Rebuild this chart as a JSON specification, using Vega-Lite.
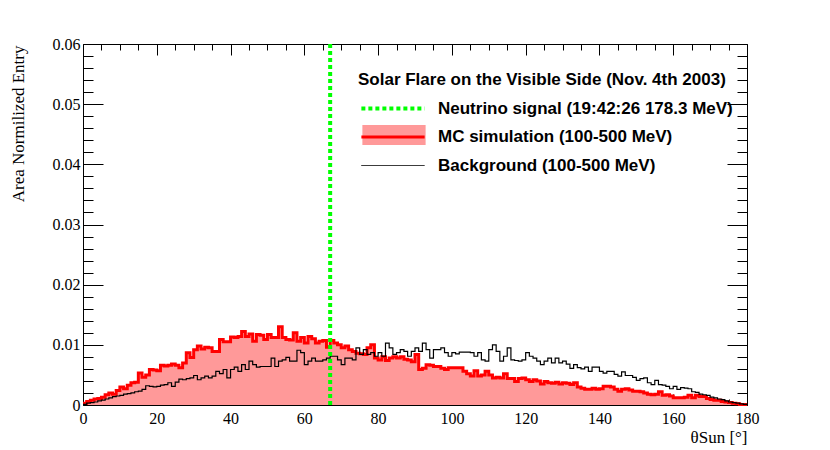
{
  "$schema": "https://vega.github.io/schema/vega-lite/v6.json",
  "width": 664,
  "height": 361,
  "autosize": "none",
  "padding": {"left": 83, "top": 44, "right": 83, "bottom": 45},
  "background": "white",
  "config": {
    "view": {"stroke": null},
    "axis": {
      "domainColor": "black",
      "domainWidth": 1,
      "tickColor": "black",
      "tickWidth": 1,
      "grid": false,
      "zindex": 1,
      "labelFont": "Liberation Serif",
      "labelFontSize": 16,
      "labelColor": "black",
      "titleFont": "Liberation Serif",
      "titleFontSize": 17,
      "titleFontWeight": "normal",
      "titleColor": "black"
    }
  },
  "data": {
    "values": [
      {"theta": 0, "mc": 0.0003, "bg": 0.0001}, {"theta": 1, "mc": 0.0006, "bg": 0.0003}, {"theta": 2, "mc": 0.0008, "bg": 0.0004}, {"theta": 3, "mc": 0.0010, "bg": 0.0005}, {"theta": 4, "mc": 0.0011, "bg": 0.0007},
      {"theta": 5, "mc": 0.0013, "bg": 0.0008}, {"theta": 6, "mc": 0.0017, "bg": 0.0010}, {"theta": 7, "mc": 0.0020, "bg": 0.0012}, {"theta": 8, "mc": 0.0018, "bg": 0.0014}, {"theta": 9, "mc": 0.0024, "bg": 0.0015},
      {"theta": 10, "mc": 0.0030, "bg": 0.0016}, {"theta": 11, "mc": 0.0027, "bg": 0.0018}, {"theta": 12, "mc": 0.0033, "bg": 0.0019}, {"theta": 13, "mc": 0.0037, "bg": 0.0020}, {"theta": 14, "mc": 0.0038, "bg": 0.0022},
      {"theta": 15, "mc": 0.0053, "bg": 0.0023}, {"theta": 16, "mc": 0.0046, "bg": 0.0026}, {"theta": 17, "mc": 0.0050, "bg": 0.0032}, {"theta": 18, "mc": 0.0059, "bg": 0.0031}, {"theta": 19, "mc": 0.0058, "bg": 0.0030},
      {"theta": 20, "mc": 0.0057, "bg": 0.0031}, {"theta": 21, "mc": 0.0066, "bg": 0.0033}, {"theta": 22, "mc": 0.0065, "bg": 0.0034}, {"theta": 23, "mc": 0.0066, "bg": 0.0037}, {"theta": 24, "mc": 0.0068, "bg": 0.0031},
      {"theta": 25, "mc": 0.0066, "bg": 0.0038}, {"theta": 26, "mc": 0.0062, "bg": 0.0043}, {"theta": 27, "mc": 0.0070, "bg": 0.0042}, {"theta": 28, "mc": 0.0087, "bg": 0.0044}, {"theta": 29, "mc": 0.0079, "bg": 0.0045},
      {"theta": 30, "mc": 0.0092, "bg": 0.0049}, {"theta": 31, "mc": 0.0098, "bg": 0.0042}, {"theta": 32, "mc": 0.0093, "bg": 0.0045}, {"theta": 33, "mc": 0.0096, "bg": 0.0048}, {"theta": 34, "mc": 0.0095, "bg": 0.0045},
      {"theta": 35, "mc": 0.0089, "bg": 0.0048}, {"theta": 36, "mc": 0.0089, "bg": 0.0056}, {"theta": 37, "mc": 0.0109, "bg": 0.0052}, {"theta": 38, "mc": 0.0105, "bg": 0.0059}, {"theta": 39, "mc": 0.0105, "bg": 0.0045},
      {"theta": 40, "mc": 0.0113, "bg": 0.0059}, {"theta": 41, "mc": 0.0112, "bg": 0.0063}, {"theta": 42, "mc": 0.0114, "bg": 0.0056}, {"theta": 43, "mc": 0.0122, "bg": 0.0067}, {"theta": 44, "mc": 0.0114, "bg": 0.0059},
      {"theta": 45, "mc": 0.0118, "bg": 0.0073}, {"theta": 46, "mc": 0.0106, "bg": 0.0067}, {"theta": 47, "mc": 0.0117, "bg": 0.0063}, {"theta": 48, "mc": 0.0116, "bg": 0.0064}, {"theta": 49, "mc": 0.0109, "bg": 0.0064},
      {"theta": 50, "mc": 0.0117, "bg": 0.0064}, {"theta": 51, "mc": 0.0112, "bg": 0.0078}, {"theta": 52, "mc": 0.0112, "bg": 0.0064}, {"theta": 53, "mc": 0.0130, "bg": 0.0073}, {"theta": 54, "mc": 0.0112, "bg": 0.0075},
      {"theta": 55, "mc": 0.0109, "bg": 0.0079}, {"theta": 56, "mc": 0.0108, "bg": 0.0073}, {"theta": 57, "mc": 0.0120, "bg": 0.0073}, {"theta": 58, "mc": 0.0106, "bg": 0.0091}, {"theta": 59, "mc": 0.0112, "bg": 0.0087},
      {"theta": 60, "mc": 0.0103, "bg": 0.0067}, {"theta": 61, "mc": 0.0114, "bg": 0.0073}, {"theta": 62, "mc": 0.0110, "bg": 0.0078}, {"theta": 63, "mc": 0.0103, "bg": 0.0073}, {"theta": 64, "mc": 0.0106, "bg": 0.0073},
      {"theta": 65, "mc": 0.0107, "bg": 0.0075}, {"theta": 66, "mc": 0.0096, "bg": 0.0078}, {"theta": 67, "mc": 0.0107, "bg": 0.0081}, {"theta": 68, "mc": 0.0103, "bg": 0.0081}, {"theta": 69, "mc": 0.0100, "bg": 0.0075},
      {"theta": 70, "mc": 0.0095, "bg": 0.0067}, {"theta": 71, "mc": 0.0098, "bg": 0.0078}, {"theta": 72, "mc": 0.0092, "bg": 0.0078}, {"theta": 73, "mc": 0.0089, "bg": 0.0075}, {"theta": 74, "mc": 0.0086, "bg": 0.0095},
      {"theta": 75, "mc": 0.0085, "bg": 0.0084}, {"theta": 76, "mc": 0.0084, "bg": 0.0092}, {"theta": 77, "mc": 0.0095, "bg": 0.0084}, {"theta": 78, "mc": 0.0100, "bg": 0.0087}, {"theta": 79, "mc": 0.0078, "bg": 0.0081},
      {"theta": 80, "mc": 0.0075, "bg": 0.0087}, {"theta": 81, "mc": 0.0080, "bg": 0.0081}, {"theta": 82, "mc": 0.0074, "bg": 0.0103}, {"theta": 83, "mc": 0.0078, "bg": 0.0095}, {"theta": 84, "mc": 0.0080, "bg": 0.0084},
      {"theta": 85, "mc": 0.0078, "bg": 0.0087}, {"theta": 86, "mc": 0.0080, "bg": 0.0092}, {"theta": 87, "mc": 0.0076, "bg": 0.0089}, {"theta": 88, "mc": 0.0075, "bg": 0.0081}, {"theta": 89, "mc": 0.0072, "bg": 0.0089},
      {"theta": 90, "mc": 0.0084, "bg": 0.0095}, {"theta": 91, "mc": 0.0059, "bg": 0.0089}, {"theta": 92, "mc": 0.0061, "bg": 0.0103}, {"theta": 93, "mc": 0.0067, "bg": 0.0092}, {"theta": 94, "mc": 0.0066, "bg": 0.0078},
      {"theta": 95, "mc": 0.0064, "bg": 0.0092}, {"theta": 96, "mc": 0.0064, "bg": 0.0092}, {"theta": 97, "mc": 0.0061, "bg": 0.0095}, {"theta": 98, "mc": 0.0059, "bg": 0.0087}, {"theta": 99, "mc": 0.0062, "bg": 0.0081},
      {"theta": 100, "mc": 0.0062, "bg": 0.0087}, {"theta": 101, "mc": 0.0062, "bg": 0.0085}, {"theta": 102, "mc": 0.0062, "bg": 0.0088}, {"theta": 103, "mc": 0.0056, "bg": 0.0088}, {"theta": 104, "mc": 0.0052, "bg": 0.0088},
      {"theta": 105, "mc": 0.0048, "bg": 0.0087}, {"theta": 106, "mc": 0.0057, "bg": 0.0081}, {"theta": 107, "mc": 0.0048, "bg": 0.0087}, {"theta": 108, "mc": 0.0050, "bg": 0.0075}, {"theta": 109, "mc": 0.0056, "bg": 0.0073},
      {"theta": 110, "mc": 0.0050, "bg": 0.0092}, {"theta": 111, "mc": 0.0045, "bg": 0.0100}, {"theta": 112, "mc": 0.0046, "bg": 0.0089}, {"theta": 113, "mc": 0.0045, "bg": 0.0073}, {"theta": 114, "mc": 0.0052, "bg": 0.0081},
      {"theta": 115, "mc": 0.0044, "bg": 0.0095}, {"theta": 116, "mc": 0.0044, "bg": 0.0075}, {"theta": 117, "mc": 0.0039, "bg": 0.0074}, {"theta": 118, "mc": 0.0044, "bg": 0.0073}, {"theta": 119, "mc": 0.0045, "bg": 0.0075},
      {"theta": 120, "mc": 0.0042, "bg": 0.0087}, {"theta": 121, "mc": 0.0039, "bg": 0.0081}, {"theta": 122, "mc": 0.0042, "bg": 0.0078}, {"theta": 123, "mc": 0.0040, "bg": 0.0073}, {"theta": 124, "mc": 0.0035, "bg": 0.0067},
      {"theta": 125, "mc": 0.0039, "bg": 0.0073}, {"theta": 126, "mc": 0.0037, "bg": 0.0078}, {"theta": 127, "mc": 0.0036, "bg": 0.0070}, {"theta": 128, "mc": 0.0038, "bg": 0.0078}, {"theta": 129, "mc": 0.0035, "bg": 0.0070},
      {"theta": 130, "mc": 0.0037, "bg": 0.0073}, {"theta": 131, "mc": 0.0036, "bg": 0.0068}, {"theta": 132, "mc": 0.0034, "bg": 0.0061}, {"theta": 133, "mc": 0.0037, "bg": 0.0067}, {"theta": 134, "mc": 0.0030, "bg": 0.0062},
      {"theta": 135, "mc": 0.0028, "bg": 0.0060}, {"theta": 136, "mc": 0.0026, "bg": 0.0063}, {"theta": 137, "mc": 0.0026, "bg": 0.0056}, {"theta": 138, "mc": 0.0028, "bg": 0.0063}, {"theta": 139, "mc": 0.0026, "bg": 0.0063},
      {"theta": 140, "mc": 0.0027, "bg": 0.0056}, {"theta": 141, "mc": 0.0031, "bg": 0.0053}, {"theta": 142, "mc": 0.0031, "bg": 0.0056}, {"theta": 143, "mc": 0.0030, "bg": 0.0056}, {"theta": 144, "mc": 0.0026, "bg": 0.0051},
      {"theta": 145, "mc": 0.0023, "bg": 0.0048}, {"theta": 146, "mc": 0.0026, "bg": 0.0055}, {"theta": 147, "mc": 0.0027, "bg": 0.0049}, {"theta": 148, "mc": 0.0025, "bg": 0.0049}, {"theta": 149, "mc": 0.0023, "bg": 0.0046},
      {"theta": 150, "mc": 0.0023, "bg": 0.0041}, {"theta": 151, "mc": 0.0022, "bg": 0.0044}, {"theta": 152, "mc": 0.0020, "bg": 0.0045}, {"theta": 153, "mc": 0.0018, "bg": 0.0037}, {"theta": 154, "mc": 0.0017, "bg": 0.0034},
      {"theta": 155, "mc": 0.0018, "bg": 0.0041}, {"theta": 156, "mc": 0.0022, "bg": 0.0034}, {"theta": 157, "mc": 0.0016, "bg": 0.0033}, {"theta": 158, "mc": 0.0017, "bg": 0.0031}, {"theta": 159, "mc": 0.0015, "bg": 0.0027},
      {"theta": 160, "mc": 0.0012, "bg": 0.0031}, {"theta": 161, "mc": 0.0012, "bg": 0.0026}, {"theta": 162, "mc": 0.0012, "bg": 0.0029}, {"theta": 163, "mc": 0.0013, "bg": 0.0028}, {"theta": 164, "mc": 0.0016, "bg": 0.0027},
      {"theta": 165, "mc": 0.0012, "bg": 0.0022}, {"theta": 166, "mc": 0.0016, "bg": 0.0021}, {"theta": 167, "mc": 0.0014, "bg": 0.0018}, {"theta": 168, "mc": 0.0014, "bg": 0.0017}, {"theta": 169, "mc": 0.0011, "bg": 0.0016},
      {"theta": 170, "mc": 0.0009, "bg": 0.0013}, {"theta": 171, "mc": 0.0008, "bg": 0.0012}, {"theta": 172, "mc": 0.0008, "bg": 0.0010}, {"theta": 173, "mc": 0.0006, "bg": 0.0009}, {"theta": 174, "mc": 0.0005, "bg": 0.0007},
      {"theta": 175, "mc": 0.0004, "bg": 0.0005}, {"theta": 176, "mc": 0.0003, "bg": 0.0004}, {"theta": 177, "mc": 0.0002, "bg": 0.0003}, {"theta": 178, "mc": 0.0001, "bg": 0.0002}, {"theta": 179, "mc": 0.0001, "bg": 0.0001},
      {"theta": 180, "mc": 0.0001, "bg": 0.0001}
    ]
  },
  "layer": [
    {
      "mark": {"type": "area", "interpolate": "step-after"},
      "encoding": {
        "x": {
          "field": "theta", "type": "quantitative",
          "scale": {"domain": [0, 180], "nice": false, "zero": false},
          "axis": {
            "values": [0, 20, 40, 60, 80, 100, 120, 140, 160, 180],
            "ticks": false,
            "labelPadding": 5,
            "labelFlush": false,
            "labelOverlap": false,
            "title": "θSun [°]",
            "titleX": 664,
            "titleY": 37,
            "titleAlign": "right",
            "titleBaseline": "alphabetic"
          }
        },
        "y": {
          "field": "mc", "type": "quantitative",
          "scale": {"domain": [0, 0.06], "nice": false},
          "axis": {
            "values": [0, 0.01, 0.02, 0.03, 0.04, 0.05, 0.06],
            "labelExpr": "datum.value == 0 ? '0' : format(datum.value, '.2f')",
            "ticks": false,
            "labelPadding": 3,
            "labelFlush": false,
            "labelOverlap": false,
            "title": "Area Normilized Entry",
            "titleX": -65,
            "titleY": 1,
            "titleAngle": -90,
            "titleAlign": "right",
            "titleBaseline": "middle"
          }
        },
        "fill": {
          "datum": "MC simulation (100-500 MeV)",
          "scale": {"domain": ["MC simulation (100-500 MeV)"], "range": ["#ff9999"]},
          "legend": {
            "orient": "none",
            "legendX": 275,
            "legendY": 59,
            "zindex": 0,
            "title": null,
            "labelExpr": "''",
            "labelFontSize": 17,
            "labelOffset": 36.5,
            "symbolOffset": 4,
            "symbolType": "M-1,-0.32H1V0.32H-1Z",
            "symbolSize": 4000,
            "symbolStrokeWidth": 0,
            "symbolOpacity": 1
          }
        }
      }
    },
    {
      "mark": {"type": "line", "interpolate": "step-after", "strokeWidth": 3},
      "encoding": {
        "x": {
          "field": "theta", "type": "quantitative",
          "axis": {
            "orient": "top",
            "values": [0, 5, 10, 15, 20, 25, 30, 35, 40, 45, 50, 55, 60, 65, 70, 75, 80, 85, 90, 95, 100, 105, 110, 115, 120, 125, 130, 135, 140, 145, 150, 155, 160, 165, 170, 175, 180],
            "labels": false,
            "tickSize": {"condition": {"test": "datum.value % 20 == 0", "value": -11}, "value": -6},
            "title": null
          }
        },
        "y": {
          "field": "mc", "type": "quantitative",
          "axis": {
            "orient": "right",
            "values": [0, 0.002, 0.004, 0.006, 0.008, 0.01, 0.012, 0.014, 0.016, 0.018, 0.02, 0.022, 0.024, 0.026, 0.028, 0.03, 0.032, 0.034, 0.036, 0.038, 0.04, 0.042, 0.044, 0.046, 0.048, 0.05, 0.052, 0.054, 0.056, 0.058, 0.06],
            "labels": false,
            "tickSize": {"condition": {"test": "abs(datum.value * 100 - round(datum.value * 100)) < 0.000001", "value": -20}, "value": -10},
            "title": null
          }
        },
        "color": {
          "datum": "MC simulation (100-500 MeV)",
          "scale": {
            "domain": ["Neutrino signal (19:42:26 178.3 MeV)", "MC simulation (100-500 MeV)", "Background (100-500 MeV)"],
            "range": ["#00ff00", "#ff0000", "#000000"]
          },
          "legend": {
            "orient": "none",
            "legendX": 275,
            "legendY": 28,
            "zindex": 1,
            "title": "Solar Flare on the Visible Side (Nov. 4th 2003)",
            "titleFont": "Liberation Sans",
            "titleFontWeight": "bold",
            "titleFontSize": 17,
            "titleColor": "black",
            "titlePadding": 11,
            "titleLimit": 600,
            "labelFont": "Liberation Sans",
            "labelFontWeight": "bold",
            "labelFontSize": 17,
            "labelColor": "black",
            "labelLimit": 500,
            "labelOffset": 36.5,
            "symbolOffset": 26.5,
            "symbolType": "stroke",
            "symbolSize": 4000,
            "symbolStrokeWidth": 2,
            "rowPadding": 10.5,
            "encode": {
              "symbols": {
                "update": {
                  "strokeDash": {"signal": "datum.value == 'Neutrino signal (19:42:26 178.3 MeV)' ? [4, 3] : [1, 0]"},
                  "strokeWidth": {"signal": "datum.value == 'Neutrino signal (19:42:26 178.3 MeV)' ? 4 : (datum.value == 'MC simulation (100-500 MeV)' ? 3 : 1)"}
                }
              }
            }
          }
        }
      }
    },
    {
      "mark": {"type": "line", "interpolate": "step-after", "strokeWidth": 1.2},
      "encoding": {
        "x": {
          "field": "theta", "type": "quantitative",
          "axis": {
            "orient": "bottom",
            "values": [0, 5, 10, 15, 20, 25, 30, 35, 40, 45, 50, 55, 60, 65, 70, 75, 80, 85, 90, 95, 100, 105, 110, 115, 120, 125, 130, 135, 140, 145, 150, 155, 160, 165, 170, 175, 180],
            "labels": false,
            "domain": false,
            "tickSize": {"condition": {"test": "datum.value % 20 == 0", "value": -11}, "value": -6},
            "title": null
          }
        },
        "y": {
          "field": "bg", "type": "quantitative",
          "axis": {
            "orient": "left",
            "values": [0, 0.002, 0.004, 0.006, 0.008, 0.01, 0.012, 0.014, 0.016, 0.018, 0.02, 0.022, 0.024, 0.026, 0.028, 0.03, 0.032, 0.034, 0.036, 0.038, 0.04, 0.042, 0.044, 0.046, 0.048, 0.05, 0.052, 0.054, 0.056, 0.058, 0.06],
            "labels": false,
            "domain": false,
            "tickSize": {"condition": {"test": "abs(datum.value * 100 - round(datum.value * 100)) < 0.000001", "value": -20}, "value": -10},
            "title": null
          }
        },
        "color": {"datum": "Background (100-500 MeV)"}
      }
    },
    {
      "data": {"values": [{"theta": 67}]},
      "mark": {"type": "rule", "strokeDash": [4, 3], "strokeWidth": 4},
      "encoding": {
        "x": {"field": "theta", "type": "quantitative", "axis": null},
        "color": {"datum": "Neutrino signal (19:42:26 178.3 MeV)"}
      }
    }
  ],
  "resolve": {"axis": {"x": "independent", "y": "independent"}}
}
